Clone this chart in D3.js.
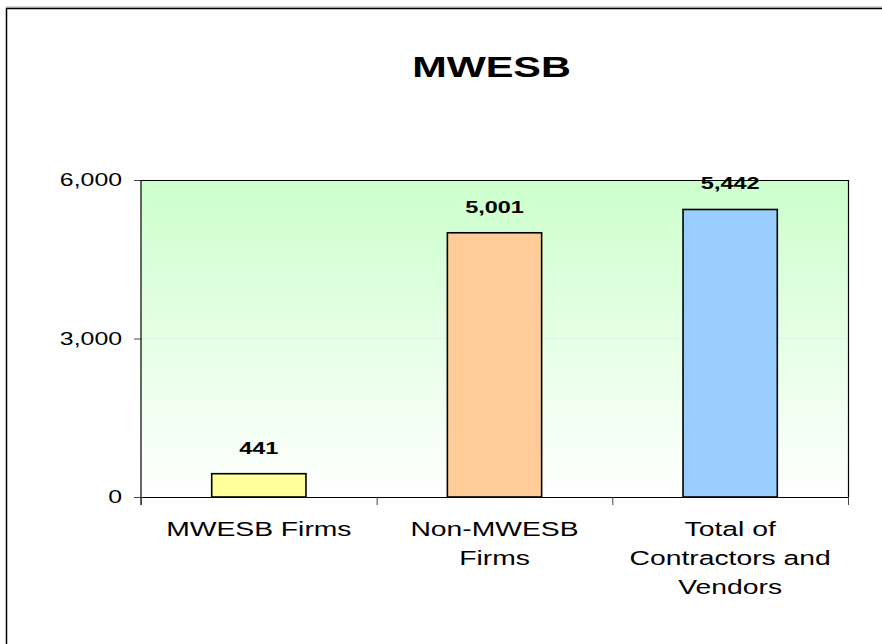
<!DOCTYPE html>
<html>
<head>
<meta charset="utf-8">
<script src="https://cdn.jsdelivr.net/npm/d3@7"></script>
<style>
  body { margin: 0; background: #fff; }
  text { font-family: "Liberation Sans", Arial, sans-serif; }
</style>
</head>
<body>
<script>
// chart data
const categories = ["MWESB Firms", "Non-MWESB Firms", "Total of Contractors and Vendors"];
const catLines = [["MWESB Firms"], ["Non-MWESB", "Firms"], ["Total of", "Contractors and", "Vendors"]];
const values = [441, 5001, 5442];
const barColors = ["#ffff99", "#ffcc99", "#99ccff"];
const yTicks = [0, 3000, 6000];

const W = 882, H = 644;
const stretch = 1.38; // the original picture is stretched sideways

const svg = d3.select("body").append("svg")
  .attr("width", W)
  .attr("height", H);

// outer frame (right and bottom edges fall outside the picture)
svg.append("line").attr("x1", 6).attr("x2", W).attr("y1", 7).attr("y2", 7)
  .style("stroke", "#aaa").style("stroke-width", 1);
svg.append("rect").attr("x", 6.5).attr("y", 8.5).attr("width", W + 10).attr("height", H + 10)
  .style("fill", "none").style("stroke", "#000").style("stroke-width", 1.5);

const plot = {left: 141, right: 848, top: 180, bottom: 497};

const y = d3.scaleLinear().domain([0, 6000]).range([plot.bottom, plot.top]);
const x = d3.scaleBand().domain(categories).range([plot.left, plot.right]).padding(0);
const xEdge = d3.scaleLinear().domain([0, 3]).range([plot.left, plot.right]);

// background gradient
const grad = svg.append("defs").append("linearGradient")
  .attr("id", "bg").attr("x1", 0).attr("y1", 0).attr("x2", 0).attr("y2", 1);
grad.append("stop").attr("offset", "0%").attr("stop-color", "#ccffcc");
grad.append("stop").attr("offset", "100%").attr("stop-color", "#ffffff");

svg.append("rect")
  .attr("x", plot.left).attr("y", plot.top)
  .attr("width", plot.right - plot.left).attr("height", plot.bottom - plot.top)
  .style("fill", "url(#bg)");

// faint gridline
svg.append("line")
  .attr("x1", plot.left).attr("x2", plot.right)
  .attr("y1", y(3000)).attr("y2", y(3000))
  .style("stroke", "#d8f8d8").style("stroke-width", 1);

// plot border top and right
svg.append("path")
  .attr("d", `M${plot.left},${plot.top + 0.5}H${plot.right + 0.5}V${plot.bottom}`)
  .style("fill", "none").style("stroke", "#000").style("stroke-width", 1.2);

function stretchedText(g, tx, ty, str, size, weight) {
  return g.append("text")
    .attr("transform", `translate(${tx},${ty}) scale(${stretch},1)`)
    .attr("text-anchor", "middle")
    .style("font-size", size + "px")
    .style("font-weight", weight || "normal")
    .text(str);
}

// title
stretchedText(svg, (plot.left + plot.right) / 2 - 3, 77, "MWESB", 30, "bold");

// bars
const barW = x.bandwidth() * 0.4;
svg.selectAll(".bar").data(values).enter().append("rect")
  .attr("class", "bar")
  .attr("x", (d, i) => x(categories[i]) + (x.bandwidth() - barW) / 2)
  .attr("y", d => y(d))
  .attr("width", barW)
  .attr("height", d => y(0) - y(d))
  .style("fill", (d, i) => barColors[i])
  .style("stroke", "#000").style("stroke-width", 1.6);

// value labels
values.forEach((v, i) => {
  stretchedText(svg, x(categories[i]) + x.bandwidth() / 2, y(v) - 20, d3.format(",")(v), 17, "bold");
});

// y axis
const yAxis = svg.append("g")
  .attr("transform", `translate(${plot.left},0)`)
  .call(d3.axisLeft(y).tickValues(yTicks).tickFormat(d3.format(",")).tickSize(7).tickSizeOuter(0));
yAxis.select(".domain").remove();
yAxis.append("line").attr("x1", 0).attr("x2", 0).attr("y1", plot.top).attr("y2", plot.bottom + 8)
  .style("stroke", "#000").style("stroke-width", 1.2);
yAxis.selectAll(".tick line").style("stroke", "#444");
yAxis.selectAll(".tick text")
  .attr("x", -19 / stretch)
  .attr("transform", `scale(${stretch},1)`)
  .style("font-size", "18px")
  .style("font-family", "Liberation Sans, Arial, sans-serif")
  .style("fill", "#000");

// x axis with boundary ticks
const xAxis = svg.append("g")
  .attr("transform", `translate(0,${plot.bottom})`)
  .call(d3.axisBottom(xEdge).tickValues([0, 1, 2, 3]).tickFormat("").tickSize(8).tickSizeOuter(0));
xAxis.select(".domain").style("stroke", "#000").style("stroke-width", 1.2);
xAxis.selectAll(".tick line").style("stroke", "#444");

// category labels
catLines.forEach((lines, i) => {
  lines.forEach((ln, j) => {
    stretchedText(svg, x(categories[i]) + x.bandwidth() / 2, 536 + j * 29, ln, 20.5);
  });
});
</script>
</body>
</html>
